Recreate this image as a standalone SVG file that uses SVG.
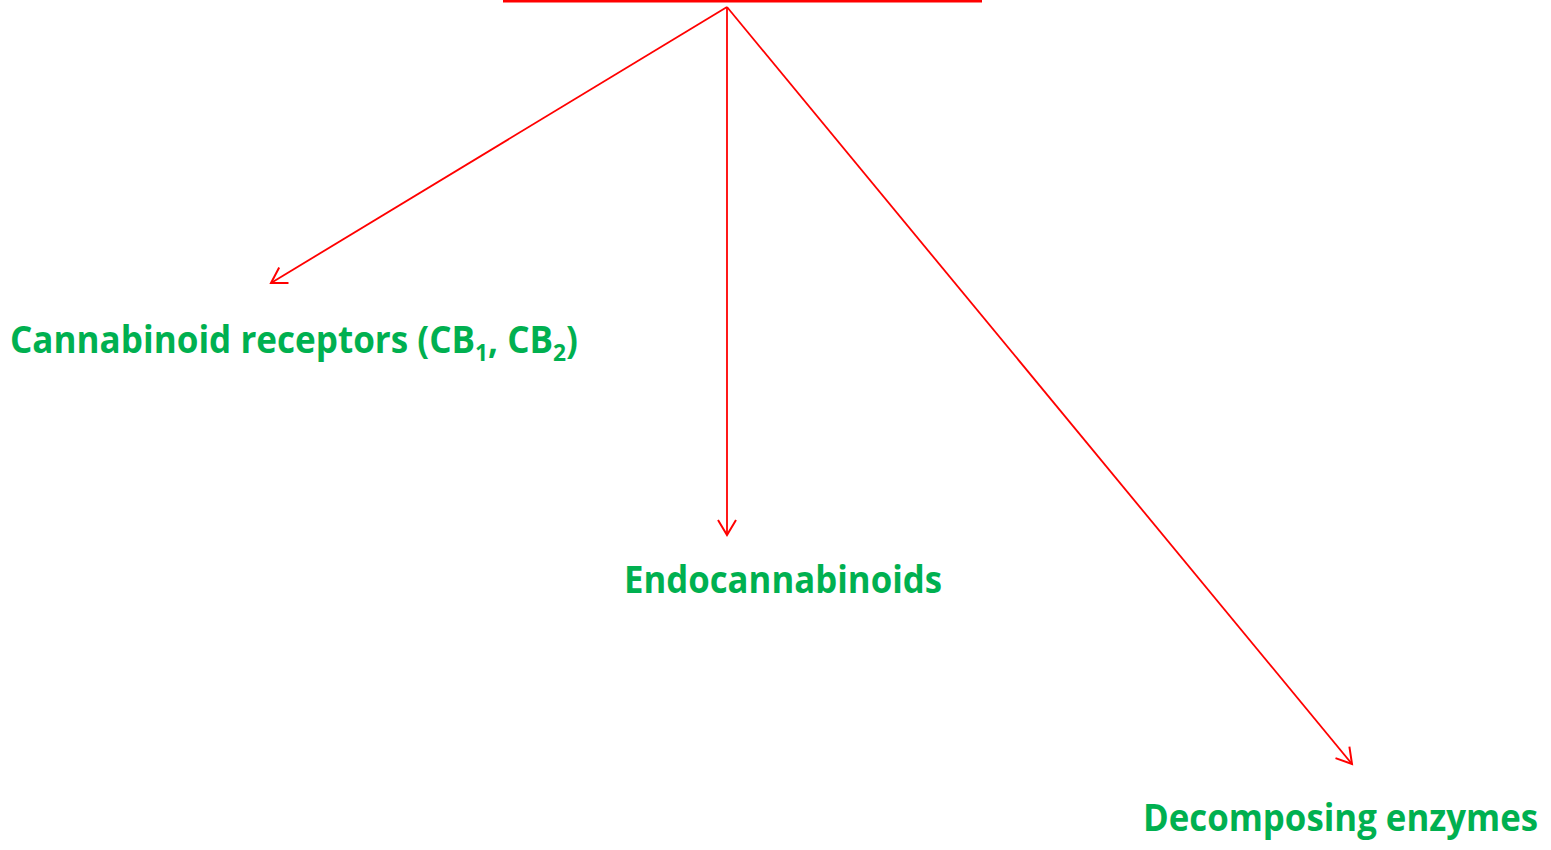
<svg xmlns="http://www.w3.org/2000/svg" width="1551" height="850" viewBox="0 0 1551 850">
  <style>
    .lbl { font-family: "Open Sans", "Liberation Sans", sans-serif; font-weight: bold; font-size: 37px; fill: #00B050; }
    .sub { font-size: 24px; }
    .conn { stroke: #FF0000; stroke-width: 1.8; fill: none; }
  </style>
  <defs>
    <marker id="arrow" markerUnits="userSpaceOnUse" markerWidth="20" markerHeight="22" viewBox="-17 -11 20 22" refX="0" refY="0" orient="auto">
      <path d="M-15,-9 L0,0 L-15,9" fill="none" stroke="#FF0000" stroke-width="2"/>
    </marker>
  </defs>
  <rect width="1551" height="850" fill="#FFFFFF"/>
  <g id="top-bar">
    <line x1="503" y1="1" x2="982" y2="1" stroke="#FF0000" stroke-width="3"/>
  </g>
  <g id="connectors">
    <line class="conn" x1="727" y1="7" x2="271" y2="283" marker-end="url(#arrow)"/>
    <line class="conn" x1="727" y1="7" x2="727" y2="535" marker-end="url(#arrow)"/>
    <line class="conn" x1="727" y1="7" x2="1352" y2="764" marker-end="url(#arrow)"/>
  </g>
  <g id="node-receptors">
    <text class="lbl" x="10" y="353" textLength="568" lengthAdjust="spacingAndGlyphs">Cannabinoid receptors (CB<tspan class="sub" dy="8">1</tspan><tspan dy="-8">, CB</tspan><tspan class="sub" dy="8">2</tspan><tspan dy="-8">)</tspan></text>
  </g>
  <g id="node-endocannabinoids">
    <text class="lbl" x="624" y="593" textLength="318" lengthAdjust="spacingAndGlyphs">Endocannabinoids</text>
  </g>
  <g id="node-enzymes">
    <text class="lbl" x="1143" y="831" textLength="395" lengthAdjust="spacingAndGlyphs">Decomposing enzymes</text>
  </g>
</svg>
